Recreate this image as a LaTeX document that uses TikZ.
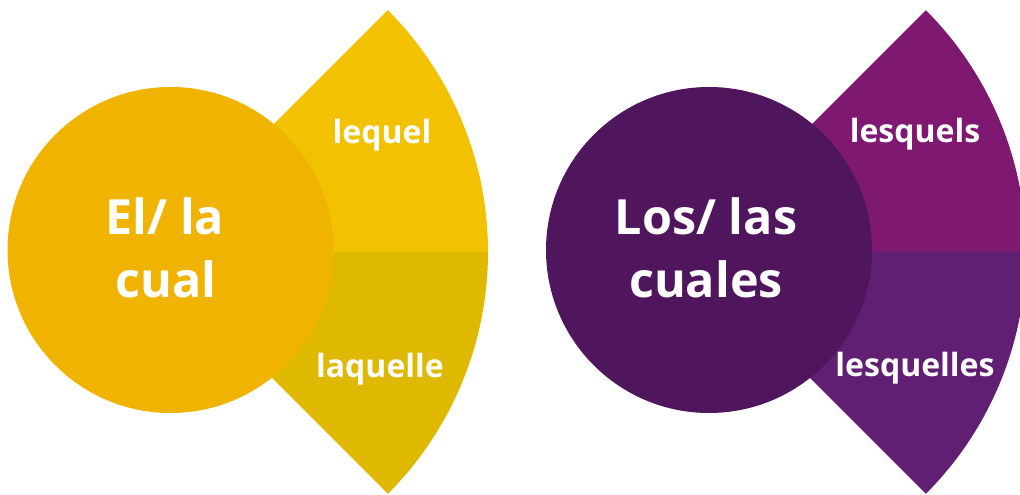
\documentclass[tikz,border=0pt]{standalone}
\usepackage{fontspec}
\setmainfont{Open Sans}
\definecolor{ycirc}{HTML}{F0B400}
\definecolor{ytop}{HTML}{F2C200}
\definecolor{ybot}{HTML}{DFB900}
\definecolor{pcirc}{HTML}{4F165E}
\definecolor{ptop}{HTML}{7F1871}
\definecolor{pbot}{HTML}{611F73}
\begin{document}
\begin{tikzpicture}[x=1pt,y=1pt,
  bigcirc/.style={circle,inner sep=0pt,minimum size=326pt},
  bigtext/.style={anchor=base,text=white,font=\fontsize{48.5}{63}\selectfont\bfseries},
  wlabel/.style={anchor=base,text=white,font=\fontsize{32}{40}\selectfont\bfseries}]
\useasboundingbox (0,0) rectangle (1020,495);
\begin{scope}
\clip (0,0) rectangle (1020,495);
% left wedge
\coordinate (la) at (146,243);
\fill[ytop] (la) -- ++(45:342pt) arc[start angle=45,end angle=0,radius=342pt] -- cycle;
\fill[ybot] (la) -- ++(0:342pt) arc[start angle=0,end angle=-45,radius=342pt] -- cycle;
% right wedge
\coordinate (ra) at (684,243);
\fill[ptop] (ra) -- ++(45:342pt) arc[start angle=45,end angle=0,radius=342pt] -- cycle;
\fill[pbot] (ra) -- ++(0:342pt) arc[start angle=0,end angle=-45,radius=342pt] -- cycle;
\end{scope}
\node[bigcirc,fill=ycirc] (c1) at (170.5,245) {};
\node[bigcirc,fill=pcirc] (c2) at (709,245) {};
\node[bigtext] (t1a) at (165,260) {El/ la};
\node[bigtext] (t1b) at (166,197) {cual};
\node[bigtext] (t2a) at (706,260) {Los/ las};
\node[bigtext] (t2b) at (706,197) {cuales};
\node[wlabel] (w1) at (382,351) {lequel};
\node[wlabel] (w2) at (380,117) {laquelle};
\node[wlabel] (w3) at (915,352) {lesquels};
\node[wlabel] (w4) at (915,118) {lesquelles};
\end{tikzpicture}
\end{document}
